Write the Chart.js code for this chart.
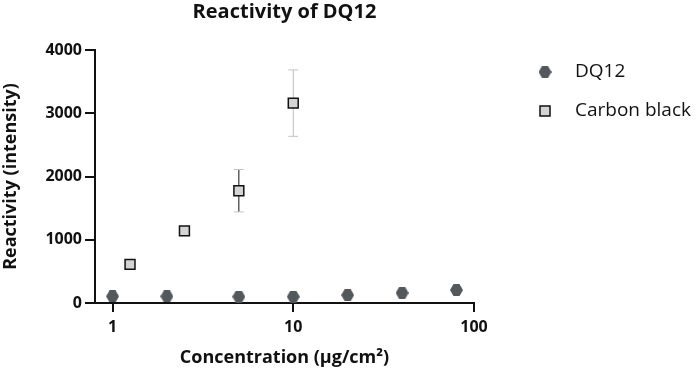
<!DOCTYPE html>
<html>
<head>
<meta charset="utf-8">
<script src="https://cdn.jsdelivr.net/npm/chart.js@4"></script>
<style>
  html, body { margin: 0; padding: 0; background: #fff; }
  #wrap { width: 700px; height: 376px; position: relative; }
</style>
</head>
<body>
<div id="wrap"><canvas id="myChart"></canvas></div>
<script>
// data
const dqConc = [1, 2, 5, 10, 20, 40, 80];
const dqValues = [105, 105, 100, 100, 125, 160, 205];

const cbConc = [1.25, 2.5, 5, 10];
const cbValues = [610, 1140, 1775, 3160];
const cbSd = [null, null, 335, 525];

const xTicks = [1, 10, 100];

const FONT = "'Open Sans', 'DejaVu Sans', sans-serif";

// hexagon marker for DQ12
function hexagon(w, h, fill) {
    const c = document.createElement('canvas');
    c.width = w; c.height = h;
    const g = c.getContext('2d');
    g.fillStyle = fill;
    g.beginPath();
    g.moveTo(0, h / 2);
    g.lineTo(w * 0.27, 0);
    g.lineTo(w * 0.73, 0);
    g.lineTo(w, h / 2);
    g.lineTo(w * 0.73, h);
    g.lineTo(w * 0.27, h);
    g.closePath();
    g.fill();
    return c;
}
const hexImg = hexagon(13, 12, '#53585c');

const ctx = document.getElementById('myChart');

// error bars, drawn under the markers
const errorBars = {
    id: 'errorBars',
    beforeDatasetsDraw(chart) {
        const g = chart.ctx;
        const xs = chart.scales.x, ys = chart.scales.y;
        g.save();
        cbConc.forEach((c, i) => {
            if (cbSd[i] == null) return;
            const x = xs.getPixelForValue(c);
            const top = ys.getPixelForValue(cbValues[i] + cbSd[i]);
            const bot = ys.getPixelForValue(cbValues[i] - cbSd[i]);
            g.lineWidth = 1;
            g.strokeStyle = i === 3 ? '#bdbdbd' : '#111';
            g.beginPath();
            g.moveTo(x, top); g.lineTo(x, bot);
            g.stroke();
            g.strokeStyle = '#c4c4c4';
            g.beginPath();
            g.moveTo(x - 5, top); g.lineTo(x + 5, top);
            g.moveTo(x - 5, bot); g.lineTo(x + 5, bot);
            g.stroke();
        });
        g.restore();
    }
};

// legend at the right, drawn by hand
const sideLegend = {
    id: 'sideLegend',
    afterDraw(chart) {
        const g = chart.ctx;
        g.save();
        g.drawImage(hexImg, 545 - 6.5, 72 - 6);
        g.fillStyle = '#d4d4d4';
        g.strokeStyle = '#111';
        g.lineWidth = 1.5;
        g.fillRect(540, 106, 10, 10);
        g.strokeRect(540, 106, 10, 10);
        g.fillStyle = '#111';
        g.font = '19px ' + FONT;
        g.textBaseline = 'middle';
        g.fillText('DQ12', 575, 72);
        g.fillText('Carbon black', 575, 111);
        g.restore();
    }
};

const reactivityChart = new Chart(ctx, {
    type: 'scatter',
    data: {
        datasets: [
            {
                label: 'DQ12',
                data: dqConc.map((c, i) => ({ x: c, y: dqValues[i] })),
                pointStyle: hexImg,
                pointRadius: 6
            },
            {
                label: 'Carbon black',
                data: cbConc.map((c, i) => ({ x: c, y: cbValues[i] })),
                pointStyle: 'rect',
                pointRadius: 7,
                backgroundColor: '#d4d4d4',
                borderColor: '#111',
                borderWidth: 1.5
            }
        ]
    },
    options: {
        responsive: true,
        maintainAspectRatio: false,
        animation: false,
        layout: { padding: { top: 0, right: 226, bottom: 0, left: 0 } },
        plugins: {
            legend: { display: false },
            tooltip: { enabled: false },
            title: {
                display: true,
                fullSize: false,
                text: 'Reactivity of DQ12',
                color: '#111',
                font: { family: FONT, size: 20, weight: 'bold' },
                padding: { top: 0, bottom: 26 }
            }
        },
        scales: {
            x: {
                type: 'logarithmic',
                min: 0.8,
                max: 100,
                afterBuildTicks: s => { s.ticks = xTicks.map(v => ({ value: v })); },
                afterFit: s => { s.height = 73; },
                ticks: {
                    color: '#111',
                    padding: 6,
                    font: { family: FONT, size: 16, weight: 'bold' },
                    callback: v => String(v),
                    maxRotation: 0
                },
                grid: { drawOnChartArea: false, color: '#111', lineWidth: 2, tickLength: 9 },
                border: { color: '#111', width: 2 },
                title: {
                    display: true,
                    text: 'Concentration (\u03BCg/cm\u00B2)',
                    color: '#111',
                    font: { family: FONT, size: 18, weight: 'bold' },
                    padding: { top: 0, bottom: 7 }
                }
            },
            y: {
                min: 0,
                max: 4000,
                afterFit: s => { s.width = 95; },
                ticks: {
                    stepSize: 1000,
                    color: '#111',
                    padding: 3,
                    font: { family: FONT, size: 16, weight: 'bold' },
                    callback: v => String(v)
                },
                grid: { drawOnChartArea: false, color: '#111', lineWidth: 2, tickLength: 10 },
                border: { color: '#111', width: 2 },
                title: {
                    display: true,
                    text: 'Reactivity (intensity)',
                    color: '#111',
                    font: { family: FONT, size: 18, weight: 'bold' },
                    padding: { top: 0, bottom: 0 }
                }
            }
        }
    },
    plugins: [errorBars, sideLegend]
});
</script>
</body>
</html>
